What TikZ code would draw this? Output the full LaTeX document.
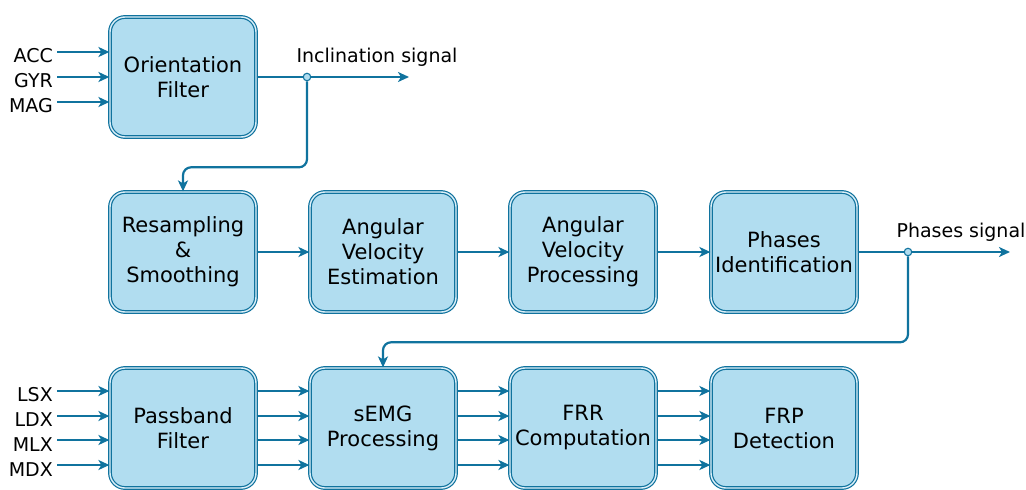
\documentclass[tikz,border=0pt]{standalone}
\usepackage{fontspec}
\setmainfont{DejaVu Sans}
\usetikzlibrary{arrows.meta}
\definecolor{blkfill}{HTML}{B1DDF0}
\definecolor{blkline}{HTML}{10739E}
\definecolor{blkgap}{HTML}{DDF0F9}
\begin{document}
\begin{tikzpicture}[x=1pt,y=-1pt,
  block/.style={draw=blkline, line width=1.2pt, double=blkgap, double distance=1.4pt,
    fill=blkfill, rounded corners=15pt, minimum width=146pt, minimum height=120pt,
    align=center, inner sep=0pt, font=\fontsize{21}{25}\selectfont},
  sig/.style={draw=blkline, line width=2.2pt,
    -{Stealth[length=11pt,width=10pt,inset=3pt]}},
  lbl/.style={inner sep=0pt, font=\fontsize{19}{22}\selectfont},
  tap/.style={circle, draw=blkline, fill=blkfill, line width=1.1pt, minimum size=7.5pt, inner sep=0pt}]
\useasboundingbox (0,0) rectangle (1026,490);

% processing blocks
\node[block] (of)   at (183,77)  {Orientation\\Filter};
\node[block] (rs)   at (183,252) {Resampling\\\&\\Smoothing};
\node[block] (ave)  at (383,252) {Angular\\Velocity\\Estimation};
\node[block] (avp)  at (583,252) {Angular\\Velocity\\Processing};
\node[block] (pid)  at (784,252) {Phases\\Identification};
\node[block] (pb)   at (183,428) {Passband\\Filter};
\node[block] (semg) at (383,428) {sEMG\\Processing};
\node[block] (frr)  at (583,428) {FRR\\Computation};
\node[block] (frp)  at (784,428) {FRP\\Detection};

% IMU inputs
\node[lbl, anchor=base east] (acc) at (53,62)  {ACC};
\node[lbl, anchor=base east] (gyr) at (53,87)  {GYR};
\node[lbl, anchor=base east] (mag) at (53,112) {MAG};
\coordinate (accin) at (57,52);
\coordinate (gyrin) at (57,77);
\coordinate (magin) at (57,102);
\foreach \c in {accin,gyrin,magin}
  \draw[sig] (\c) -- (\c -| of.west);

% inclination output and feedback
\node[lbl, anchor=base] (incl) at (377,62) {Inclination signal};
\coordinate (inclout) at (409,77);
\draw[sig] (of.east) -- (inclout);
\node[tap] (t1) at (307,77) {};
\draw[sig, rounded corners=8pt] (t1.south) -- ++(0,86) -| (rs.north);

% main chain
\draw[sig] (rs) -- (ave);
\draw[sig] (ave) -- (avp);
\draw[sig] (avp) -- (pid);

% phases output and feedback
\node[lbl, anchor=base] (phs) at (961,237) {Phases signal};
\coordinate (phout) at (1010,252);
\draw[sig] (pid.east) -- (phout);
\node[tap] (t2) at (908,252) {};
\draw[sig, rounded corners=8pt] (t2.south) -- ++(0,86) -| (semg.north);

% sEMG inputs
\node[lbl, anchor=base east] (lsx) at (53,401) {LSX};
\node[lbl, anchor=base east] (ldx) at (53,426) {LDX};
\node[lbl, anchor=base east] (mlx) at (53,451) {MLX};
\node[lbl, anchor=base east] (mdx) at (53,476) {MDX};
\foreach \y in {391,416,440,465} {
  \coordinate (emgin) at (57,\y);
  \draw[sig] (emgin) -- (emgin -| pb.west);
  \draw[sig] (pb.east |- emgin) -- (semg.west |- emgin);
  \draw[sig] (semg.east |- emgin) -- (frr.west |- emgin);
  \draw[sig] (frr.east |- emgin) -- (frp.west |- emgin);
}
\end{tikzpicture}
\end{document}
